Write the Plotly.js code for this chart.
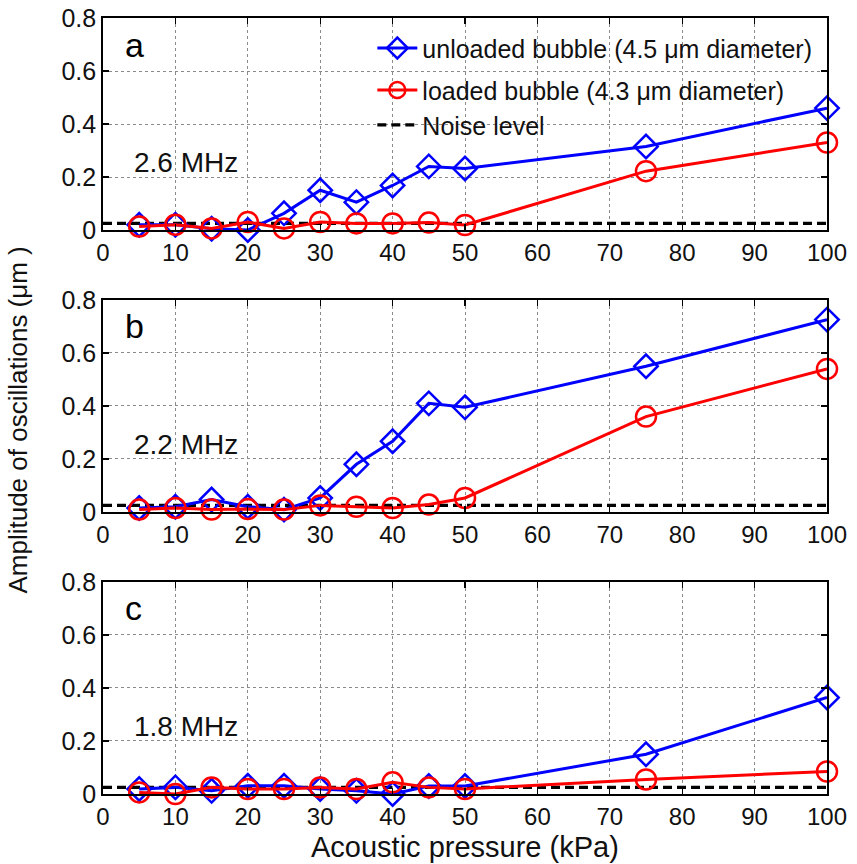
<!DOCTYPE html>
<html>
<head>
<meta charset="utf-8">
<script src="https://cdn.plot.ly/plotly-3.0.1.min.js"></script>
<style>html,body{margin:0;padding:0;background:#fff;}#chart{width:857px;height:864px;}</style>
</head>
<body>
<div id="chart"></div>
<script>
// ---- data ----
var pressure = [5, 10, 15, 20, 25, 30, 35, 40, 45, 50, 75, 100];
var unloadedA = [0.02, 0.02, 0.005, 0.0, 0.063, 0.15, 0.105, 0.168, 0.24, 0.232, 0.315, 0.46];
var loadedA   = [0.013, 0.02, 0.006, 0.03, 0.006, 0.03, 0.025, 0.025, 0.028, 0.019, 0.222, 0.33];
var unloadedB = [0.015, 0.02, 0.047, 0.02, 0.009, 0.053, 0.18, 0.267, 0.41, 0.395, 0.55, 0.726];
var loadedB   = [0.009, 0.015, 0.009, 0.011, 0.009, 0.025, 0.02, 0.015, 0.028, 0.053, 0.36, 0.54];
var unloadedC = [0.019, 0.025, 0.012, 0.031, 0.031, 0.019, 0.012, 0.0, 0.03, 0.03, 0.15, 0.364];
var loadedC   = [0.006, 0.0, 0.025, 0.019, 0.019, 0.025, 0.019, 0.044, 0.025, 0.019, 0.055, 0.085];
var noiseX = [0, 100];
var noiseLevel = [0.025, 0.025];
var panelLetters = ["a", "b", "c"];
var frequencies = ["2.6 MHz", "2.2 MHz", "1.8 MHz"];
var seriesNames = ["unloaded bubble (4.5 μm diameter)", "loaded bubble (4.3 μm diameter)", "Noise level"];
var xTicks = [0, 10, 20, 30, 40, 50, 60, 70, 80, 90, 100];
var yTicks = [0, 0.2, 0.4, 0.6, 0.8];
var xTitle = "Acoustic pressure (kPa)";
var yTitle = "Amplitude of oscillations (μm )";

var unloaded = [unloadedA, unloadedB, unloadedC];
var loaded = [loadedA, loadedB, loadedC];

var FONT = "Liberation Sans, Arial, sans-serif";
var traces = [];
var suffix = ["", "2", "3"];
for (var p = 0; p < 3; p++) {
  var xa = "x" + suffix[p], ya = "y" + suffix[p];
  traces.push({
    x: noiseX, y: noiseLevel, xaxis: xa, yaxis: ya, mode: "lines",
    name: seriesNames[2], showlegend: p === 0, legend: "legend3",
    line: {color: "#000", width: 3.2, dash: "9px,5px"}, hoverinfo: "skip"
  });
  traces.push({
    x: pressure, y: unloaded[p], xaxis: xa, yaxis: ya, mode: "lines+markers",
    name: seriesNames[0], showlegend: p === 0, legend: "legend", cliponaxis: false,
    line: {color: "#0000ff", width: 3},
    marker: {symbol: "diamond-open", size: 18, color: "#0000ff", line: {color: "#0000ff", width: 2.5}}
  });
  traces.push({
    x: pressure, y: loaded[p], xaxis: xa, yaxis: ya, mode: "lines+markers",
    name: seriesNames[1], showlegend: p === 0, legend: "legend2", cliponaxis: false,
    line: {color: "#ff0000", width: 3},
    marker: {symbol: "circle-open", size: 20, color: "#ff0000", line: {color: "#ff0000", width: 2.5}}
  });
}

function xAxis(anchor) {
  return {
    anchor: anchor, domain: [0, 1], range: [0, 100], tickvals: xTicks,
    ticks: "inside", ticklen: 6, tickwidth: 1.2, tickcolor: "#000",
    showline: true, linecolor: "#000", linewidth: 1.8, mirror: "ticks",
    showgrid: true, gridcolor: "#8a8a8a", griddash: "dot", gridwidth: 1,
    zeroline: false, tickfont: {family: FONT, size: 24, color: "#111"}
  };
}
function yAxis(anchor, dom) {
  return {
    anchor: anchor, domain: dom, range: [0, 0.8], tickvals: yTicks,
    ticktext: ["0", "0.2", "0.4", "0.6", "0.8"],
    ticks: "inside", ticklen: 6, tickwidth: 1.2, tickcolor: "#000",
    showline: true, linecolor: "#000", linewidth: 1.8, mirror: "ticks",
    showgrid: true, gridcolor: "#8a8a8a", griddash: "dot", gridwidth: 1,
    zeroline: false, tickfont: {family: FONT, size: 25, color: "#111"}
  };
}

var annotations = [];
for (var q = 0; q < 3; q++) {
  annotations.push({
    xref: "x" + suffix[q], yref: "y" + suffix[q], x: 2.8, y: 0.70,
    text: panelLetters[q], showarrow: false, xanchor: "left", yanchor: "middle",
    font: {family: FONT, size: 34, color: "#000"}
  });
  annotations.push({
    xref: "x" + suffix[q], yref: "y" + suffix[q], x: 4.0, y: 0.255,
    text: frequencies[q], showarrow: false, xanchor: "left", yanchor: "middle",
    font: {family: FONT, size: 28, color: "#111"}
  });
}
annotations.push({
  xref: "paper", yref: "paper", x: 0.5, y: -0.068, text: xTitle, showarrow: false,
  xanchor: "center", yanchor: "middle", font: {family: FONT, size: 29, color: "#111"}
});
annotations.push({
  xref: "paper", yref: "paper", x: -0.118, y: 0.482, text: yTitle, showarrow: false,
  textangle: -90, xanchor: "center", yanchor: "middle", font: {family: FONT, size: 26, color: "#111"}
});

function legendAt(yv) {
  return {
    x: 0.372, y: yv, xanchor: "left", yanchor: "middle", bgcolor: "rgba(0,0,0,0)",
    borderwidth: 0, font: {family: FONT, size: 25, color: "#111"}, itemwidth: 40
  };
}

var layout = {
  width: 857, height: 864,
  margin: {l: 103, r: 30, t: 18, b: 70},
  paper_bgcolor: "#fff", plot_bgcolor: "#fff",
  xaxis: xAxis("y"), yaxis: yAxis("x", [0.7268, 1]),
  xaxis2: xAxis("y2"), yaxis2: yAxis("x2", [0.3634, 0.6366]),
  xaxis3: xAxis("y3"), yaxis3: yAxis("x3", [0, 0.2732]),
  legend: legendAt(0.961),
  legend2: legendAt(0.907),
  legend3: legendAt(0.862),
  annotations: annotations,
  showlegend: true
};

Plotly.newPlot("chart", traces, layout, {displayModeBar: false, staticPlot: true});
</script>
</body>
</html>
